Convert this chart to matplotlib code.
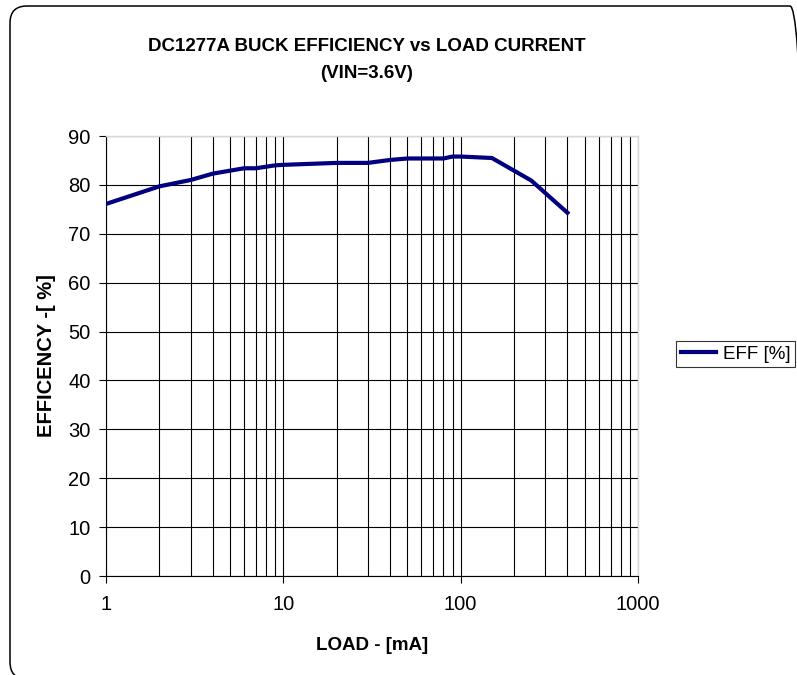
import matplotlib
matplotlib.use("Agg")
import matplotlib.pyplot as plt
from matplotlib.patches import FancyBboxPatch
from matplotlib.transforms import IdentityTransform
from matplotlib.ticker import FixedLocator, NullFormatter

# =============================================================================
# Data
# =============================================================================
load_ma = [1, 2, 3, 4, 6, 7, 9, 10, 20, 30, 40, 50, 60, 70, 80, 90, 100, 150, 250, 400]
eff_pct = [76.1, 79.7, 81.0, 82.3, 83.4, 83.4, 84.0, 84.1, 84.5, 84.5,
           85.1, 85.4, 85.4, 85.4, 85.4, 85.8, 85.8, 85.5, 80.9, 74.3]

y_ticks = [0, 10, 20, 30, 40, 50, 60, 70, 80, 90]
x_ticks = [1, 10, 100, 1000]
x_ticklabels = ["1", "10", "100", "1000"]

title_text = "DC1277A BUCK EFFICIENCY vs LOAD CURRENT\n(VIN=3.6V)"
x_label = "LOAD - [mA]"
y_label = "EFFICENCY -[ %]"
legend_label = "EFF [%]"

# =============================================================================
# Plot
# =============================================================================
plt.rcParams["font.family"] = ["Liberation Sans", "DejaVu Sans"]

W, H = 797, 675
fig = plt.figure(figsize=(W / 100, H / 100), dpi=100)

# rounded outer border (pixel coords, runs off the right/bottom edge)
left_px, top_px, right_px, bottom_px = 10, 6, 807, 679
border = FancyBboxPatch(
    (left_px, H - bottom_px), right_px - left_px, bottom_px - top_px,
    boxstyle="round,pad=0,rounding_size=17",
    transform=IdentityTransform(), facecolor="none", edgecolor="black",
    linewidth=1.1, zorder=-1,
)
fig.patches.append(border)

ax = fig.add_axes([106 / W, 1 - 576 / H, (638 - 106) / W, (576 - 136) / H])
ax.set_facecolor("white")

ax.set_xscale("log")
ax.set_xlim(1, 1000)
ax.set_ylim(0, 90)

ax.plot(load_ma, eff_pct, color="#000080", linewidth=3.0,
        solid_joinstyle="round", label=legend_label, zorder=3)

# grid lines
minor_pos = [m * d for d in (1, 10, 100) for m in range(2, 10)]
ax.xaxis.set_major_locator(FixedLocator(x_ticks))
ax.xaxis.set_minor_locator(FixedLocator(minor_pos))
ax.xaxis.set_minor_formatter(NullFormatter())
ax.set_xticklabels(x_ticklabels)
ax.set_yticks(y_ticks)

ax.grid(True, which="major", axis="both", color="black", linewidth=0.8, zorder=1)
ax.grid(True, which="minor", axis="x", color="black", linewidth=0.8, zorder=1)

ax.tick_params(axis="both", which="major", direction="out", length=5,
               width=0.8, labelsize=14.5, colors="black")
ax.tick_params(axis="x", which="major", pad=9)
ax.tick_params(axis="y", which="major", pad=6)
ax.tick_params(axis="x", which="minor", length=0)

for side in ("top", "right"):
    ax.spines[side].set_color("#d8d8d8")
    ax.spines[side].set_linewidth(1.0)
for side in ("left", "bottom"):
    ax.spines[side].set_color("black")
    ax.spines[side].set_linewidth(0.8)

ax.set_xlabel(x_label, fontsize=13.5, fontweight="bold", labelpad=16)
ax.set_ylabel(y_label, fontsize=14.5, fontweight="bold", labelpad=9)

fig.text(367 / W, 1 - 60 / H, title_text, ha="center", va="center",
         fontsize=13.5, fontweight="bold", linespacing=1.75)

leg = ax.legend(loc="center left", bbox_to_anchor=(676 / W, 1 - 354 / H),
                bbox_transform=fig.transFigure, frameon=True, fancybox=False,
                fontsize=13.5, handlelength=1.9, handletextpad=0.35,
                borderpad=0.25, borderaxespad=0)
leg.get_frame().set_edgecolor("black")
leg.get_frame().set_linewidth(0.8)

fig.savefig("out.png", dpi=100)
